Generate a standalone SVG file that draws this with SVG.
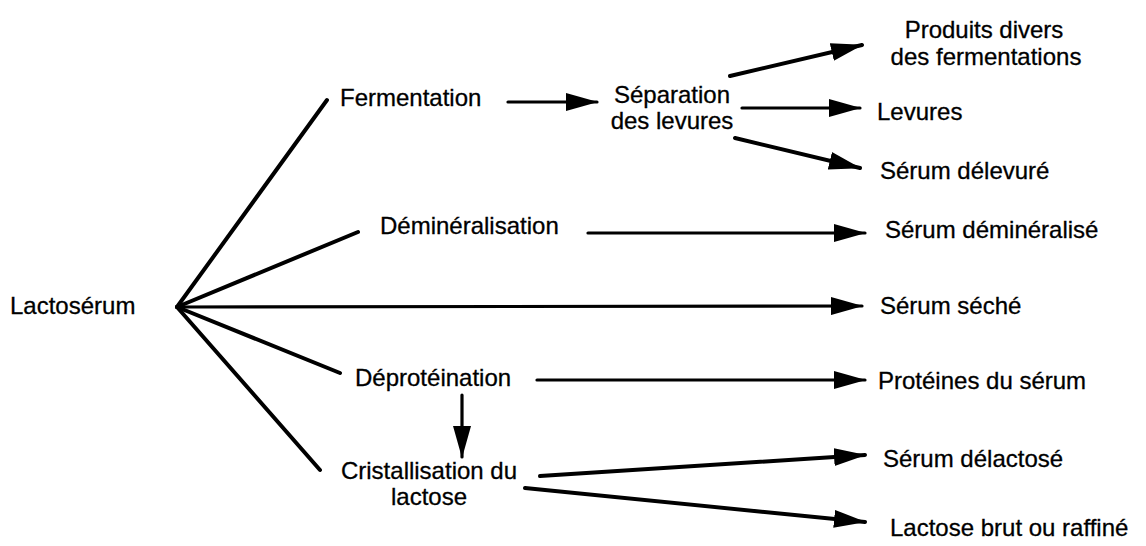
<svg xmlns="http://www.w3.org/2000/svg" width="1146" height="546" viewBox="0 0 1146 546">
<style>
text{font-family:"Liberation Sans",Arial,sans-serif;font-size:24px;fill:#000;stroke:#000;stroke-width:0.3}
.c line{stroke:#000;stroke-width:4;stroke-linecap:round}
.c line.t{stroke-width:3.2}
</style>
<defs>
<marker id="ah" viewBox="0 0 32 18" refX="31" refY="9" markerWidth="32" markerHeight="18" markerUnits="userSpaceOnUse" orient="auto"><path d="M0,0 L32,9 L0,18 z" fill="#000"/></marker>
</defs>
<rect width="1146" height="546" fill="#fff"/>
<g class="c" id="connectors">
<line x1="177" y1="307" x2="327" y2="100"/>
<line x1="177" y1="307" x2="358" y2="232"/>
<line x1="177" y1="307" x2="340" y2="373"/>
<line x1="177" y1="307" x2="320" y2="470"/>
<line x1="177" y1="307" x2="862" y2="306" class="t" marker-end="url(#ah)"/>
<line x1="508" y1="102" x2="597" y2="102" class="t" marker-end="url(#ah)"/>
<line x1="730" y1="76" x2="862" y2="45" marker-end="url(#ah)"/>
<line x1="742" y1="108" x2="860" y2="108" class="t" marker-end="url(#ah)"/>
<line x1="735" y1="138" x2="860" y2="168" marker-end="url(#ah)"/>
<line x1="588" y1="233" x2="865" y2="233" class="t" marker-end="url(#ah)"/>
<line x1="537" y1="380" x2="865" y2="380" class="t" marker-end="url(#ah)"/>
<line x1="462" y1="395" x2="462" y2="457" class="t" marker-end="url(#ah)"/>
<line x1="540" y1="476" x2="865" y2="455" marker-end="url(#ah)"/>
<line x1="525" y1="488" x2="865" y2="522" marker-end="url(#ah)"/>
</g>
<g id="lactoserum"><text x="10" y="314">Lactosérum</text></g>
<g id="fermentation"><text x="340" y="106">Fermentation</text></g>
<g id="separation"><text x="672" y="103" text-anchor="middle">Séparation</text><text x="672" y="129" text-anchor="middle">des levures</text></g>
<g id="produits"><text x="984" y="38" text-anchor="middle">Produits divers</text><text x="986" y="65" text-anchor="middle">des fermentations</text></g>
<g id="levures"><text x="877" y="120">Levures</text></g>
<g id="serum-delevure"><text x="880" y="179">Sérum délevuré</text></g>
<g id="demineralisation"><text x="380" y="234">Déminéralisation</text></g>
<g id="serum-demineralise"><text x="885" y="238">Sérum déminéralisé</text></g>
<g id="serum-seche"><text x="880" y="314">Sérum séché</text></g>
<g id="deproteination"><text x="355" y="386">Déprotéination</text></g>
<g id="proteines"><text x="878" y="389">Protéines du sérum</text></g>
<g id="cristallisation"><text x="429" y="479" text-anchor="middle">Cristallisation du</text><text x="429" y="505" text-anchor="middle">lactose</text></g>
<g id="serum-delactose"><text x="883" y="467">Sérum délactosé</text></g>
<g id="lactose-brut"><text x="890" y="536">Lactose brut ou raffiné</text></g>
</svg>
